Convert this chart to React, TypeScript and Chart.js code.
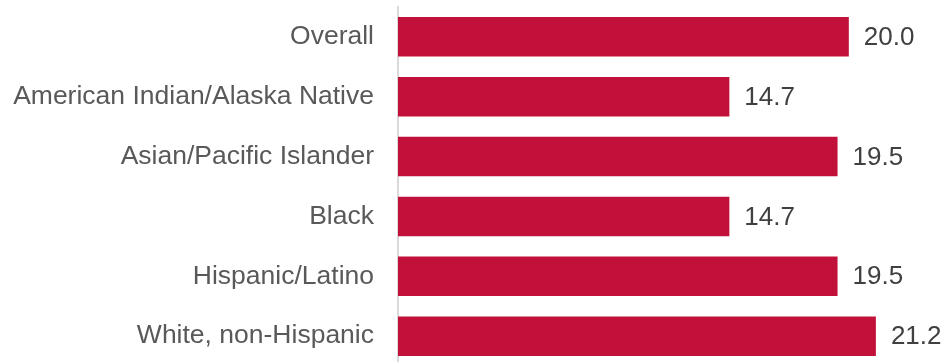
import React, { useEffect, useRef } from "react";
import { Chart, registerables } from "chart.js";
Chart.register(...registerables);

const categories = [
  "Overall",
  "American Indian/Alaska Native",
  "Asian/Pacific Islander",
  "Black",
  "Hispanic/Latino",
  "White, non-Hispanic",
];
const values = [20.0, 14.7, 19.5, 14.7, 19.5, 21.2];

const valueLabels = {
  id: "valueLabels",
  afterDatasetsDraw(chart: any) {
    const ctx = chart.ctx;
    const meta = chart.getDatasetMeta(0);
    ctx.save();
    ctx.font = "26px 'Liberation Sans', Arial, sans-serif";
    ctx.fillStyle = "#404040";
    ctx.textAlign = "left";
    ctx.textBaseline = "middle";
    meta.data.forEach((bar: any, i: number) => {
      ctx.fillText(values[i].toFixed(1), bar.x + 15, bar.y + 1);
    });
    ctx.restore();
  },
};

export default function App() {
  const ref = useRef<HTMLCanvasElement>(null);
  useEffect(() => {
    const chart = new Chart(ref.current!, {
      type: "bar",
      data: {
        labels: categories,
        datasets: [
          {
            data: values,
            backgroundColor: "#C1113A",
            barPercentage: 0.66,
            categoryPercentage: 1,
          },
        ],
      },
      options: {
        indexAxis: "y",
        animation: false,
        responsive: true,
        maintainAspectRatio: false,
        layout: { padding: { top: 5, bottom: 5, right: 5, left: 0 } },
        plugins: { legend: { display: false }, tooltip: { enabled: false } },
        scales: {
          x: { display: false, min: 0, max: 24 },
          y: {
            afterFit(scale: any) {
              scale.width = 398;
            },
            grid: { display: false, drawTicks: false },
            border: { display: true, color: "#D9D9D9", width: 2 },
            ticks: {
              padding: 24,
              color: "#595959",
              font: { size: 26.5, family: "'Liberation Sans', Arial, sans-serif" },
            },
          },
        },
      },
      plugins: [valueLabels],
    });
    return () => chart.destroy();
  }, []);
  return (
    <div style={{ position: "absolute", left: 0, top: 0, width: 944, height: 362, overflow: "hidden" }}>
      <div style={{ position: "absolute", left: 0, top: -33, width: 944, height: 439 }}>
        <canvas ref={ref} />
      </div>
    </div>
  );
}
